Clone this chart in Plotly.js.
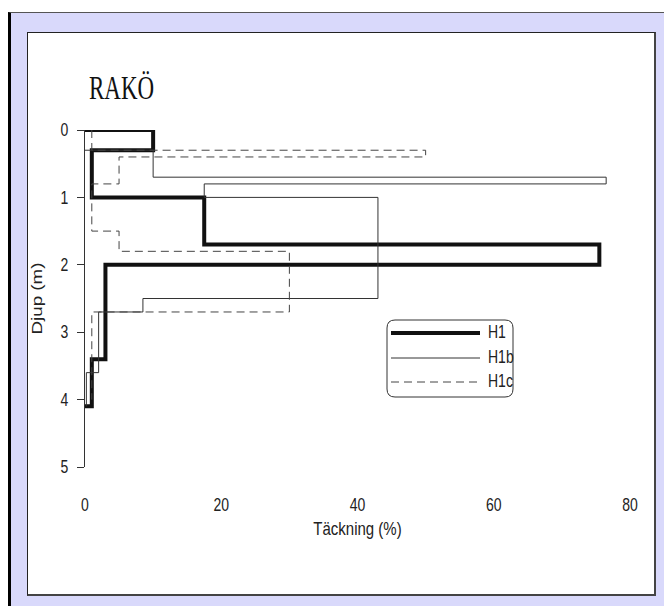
<!DOCTYPE html>
<html>
<head>
<meta charset="utf-8">
<script src="https://cdn.plot.ly/plotly-3.0.1.min.js"></script>
<style>
  html, body { margin:0; padding:0; background:#ffffff; width:664px; height:606px; overflow:hidden; }
  #frame { position:absolute; left:8px; top:12px; width:653px; height:594px; background:#d9d9fb;
           border-left:3px solid #000; border-top:1px solid #555; }
  #panel { position:absolute; left:27px; top:32px; width:626px; height:561px; background:#fff;
           border:1px solid #222; border-right:2px solid #444; border-bottom:2px solid #444; }
  #chart { position:absolute; left:0; top:0; width:664px; height:606px; }
</style>
</head>
<body>
<div id="frame"></div>
<div id="panel"></div>
<div id="chart"></div>
<script>
// ---- data (cover % vs depth m) ----
const seriesNames = ["H1", "H1b", "H1c"];
const h1Cover  = [0, 10, 10, 1, 1, 17.5, 17.5, 75.5, 75.5, 3, 3, 1, 1, 0];
const h1Depth  = [0, 0, 0.3, 0.3, 1, 1, 1.7, 1.7, 2, 2, 3.4, 3.4, 4.1, 4.1];
const h1bCover = [0, 10, 10, 76.5, 76.5, 17.5, 17.5, 43, 43, 8.5, 8.5, 2, 2, 0.2, 0.2];
const h1bDepth = [0.3, 0.3, 0.7, 0.7, 0.8, 0.8, 1, 1, 2.5, 2.5, 2.7, 2.7, 3.6, 3.6, 4.1];
const h1cCover = [1, 1, 50, 50, 5, 5, 1, 1, 5, 5, 30, 30, 1, 1];
const h1cDepth = [0, 0.3, 0.3, 0.4, 0.4, 0.8, 0.8, 1.5, 1.5, 1.8, 1.8, 2.7, 2.7, 4];
const xTicks = [0, 20, 40, 60, 80];
const yTicks = [0, 1, 2, 3, 4, 5];

const W = 664, H = 606;
const mL = 85, mR = 34, mT = 130, mB = 139;
const plotW = W - mL - mR, plotH = H - mT - mB;
const xMax = 80, yMax = 5;
// pixel -> data helpers for the hand-drawn legend box
const px2x = p => (p - mL) / plotW * xMax;
const py2y = p => (p - mT) / plotH * yMax;

const traces = [
  { x: h1Cover, y: h1Depth, name: seriesNames[0], mode: 'lines', cliponaxis: false,
    line: { color: '#111', width: 4 } },
  { x: h1bCover, y: h1bDepth, name: seriesNames[1], mode: 'lines', cliponaxis: false,
    line: { color: '#333', width: 1 } },
  { x: h1cCover, y: h1cDepth, name: seriesNames[2], mode: 'lines', cliponaxis: false,
    line: { color: '#444', width: 1, dash: '8px,5px' } }
];

// legend box (rounded rectangle) and sample lines
const bx0 = 387, bx1 = 513, by0 = 320, by1 = 397, r = 8;
const X = px2x, Y = py2y;
const boxPath =
  'M' + X(bx0 + r) + ',' + Y(by0) +
  ' L' + X(bx1 - r) + ',' + Y(by0) +
  ' Q' + X(bx1) + ',' + Y(by0) + ' ' + X(bx1) + ',' + Y(by0 + r) +
  ' L' + X(bx1) + ',' + Y(by1 - r) +
  ' Q' + X(bx1) + ',' + Y(by1) + ' ' + X(bx1 - r) + ',' + Y(by1) +
  ' L' + X(bx0 + r) + ',' + Y(by1) +
  ' Q' + X(bx0) + ',' + Y(by1) + ' ' + X(bx0) + ',' + Y(by1 - r) +
  ' L' + X(bx0) + ',' + Y(by0 + r) +
  ' Q' + X(bx0) + ',' + Y(by0) + ' ' + X(bx0 + r) + ',' + Y(by0) + ' Z';

const legY = [333, 358, 382];
const legStyles = [
  { color: '#111', width: 4, dash: 'solid' },
  { color: '#333', width: 1, dash: 'solid' },
  { color: '#444', width: 1, dash: '8px,5px' }
];
const shapes = [
  { type: 'path', xref: 'x', yref: 'y', path: boxPath, line: { color: '#333', width: 1 }, fillcolor: 'rgba(255,255,255,1)', layer: 'above' }
];
legY.forEach((py, i) => {
  shapes.push({ type: 'line', xref: 'x', yref: 'y', x0: X(391), x1: X(480), y0: Y(py), y1: Y(py),
                line: legStyles[i], layer: 'above' });
});
const annotations = [
  { text: 'RAKÖ', xref: 'paper', yref: 'paper', x: (87 - mL) / plotW, y: 1 - (88 - mT) / plotH,
    xanchor: 'left', yanchor: 'middle', showarrow: false,
    font: { family: 'Liberation Serif, Times New Roman, serif', size: 23, color: '#111' } }
];
legY.forEach((py, i) => {
  annotations.push({ text: seriesNames[i], xref: 'x', yref: 'y', x: X(486), y: Y(py - 1),
    xanchor: 'left', yanchor: 'middle', showarrow: false,
    font: { family: 'Liberation Sans, Arial, sans-serif', size: 14, color: '#222' } });
});

const layout = {
  width: W, height: H,
  margin: { l: mL, r: mR, t: mT, b: mB, pad: 0 },
  paper_bgcolor: 'rgba(0,0,0,0)', plot_bgcolor: 'rgba(0,0,0,0)',
  showlegend: false,
  font: { family: 'Liberation Sans, Arial, sans-serif', color: '#222', size: 15 },
  xaxis: {
    range: [0, xMax], tickvals: xTicks, ticktext: xTicks.map(String),
    showline: false, showgrid: false, zeroline: false, ticks: '',
    ticklabelstandoff: 28, automargin: false,
    tickfont: { size: 14, color: '#222' },
    title: { text: 'Täckning (%)', standoff: 11, font: { size: 15, color: '#222' } }
  },
  yaxis: {
    range: [yMax, 0], tickvals: yTicks, ticktext: yTicks.map(String),
    showline: true, linecolor: '#333', linewidth: 1, mirror: false,
    showgrid: false, zeroline: false, ticks: 'outside', ticklen: 7, tickcolor: '#333',
    ticklabelstandoff: 6, automargin: false,
    tickfont: { size: 14, color: '#222' },
    title: { text: 'Djup (m)', standoff: 14, font: { size: 15, color: '#222' } }
  },
  shapes: shapes,
  annotations: annotations
};

// The reference renders its text vertically stretched; mimic that on the real text nodes.
function stretchTexts() {
  document.querySelectorAll('#chart svg text').forEach(el => {
    const t = el.textContent || '';
    if (!t.trim()) return;
    let b;
    try { b = el.getBBox(); } catch (e) { return; }
    const cx = b.x + b.width / 2, cy = b.y + b.height / 2;
    const tr = el.getAttribute('transform') || '';
    const rotated = /rotate\(\s*-?90/.test(tr);
    const s = (t === 'RAKÖ') ? 1.5 : 1.25;
    const sc = rotated ? ('scale(' + s + ',1)') : ('scale(1,' + s + ')');
    el.setAttribute('transform', tr + ' translate(' + cx + ',' + cy + ') ' + sc + ' translate(' + (-cx) + ',' + (-cy) + ')');
  });
}

Plotly.newPlot('chart', traces, layout, { staticPlot: true, displayModeBar: false }).then(stretchTexts);
</script>
</body>
</html>
